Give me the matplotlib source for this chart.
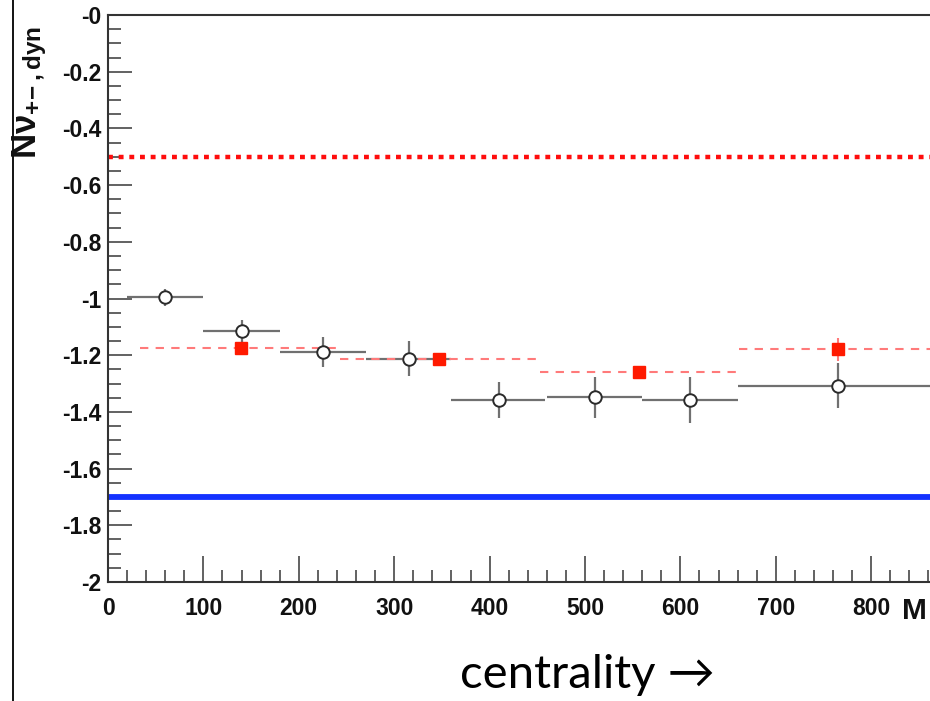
import matplotlib
matplotlib.use("Agg")
import matplotlib.pyplot as plt
from matplotlib.lines import Line2D
from matplotlib.ticker import MultipleLocator, FuncFormatter
import numpy as np

# open circles (black/grey)
circ_x = [60, 140, 225, 315, 410, 510, 610, 765]
circ_y = [-0.995, -1.115, -1.19, -1.213, -1.357, -1.348, -1.358, -1.307]
circ_xlo = [20, 100, 180, 270, 360, 460, 560, 660]
circ_xhi = [100, 180, 270, 360, 458, 560, 660, 870]
circ_yerr = [0.03, 0.04, 0.053, 0.062, 0.064, 0.072, 0.08, 0.078]

# red squares
sq_x = [139, 347, 557, 765]
sq_y = [-1.176, -1.215, -1.258, -1.179]
sq_xlo = [34, 243, 453, 661]
sq_xhi = [243, 452, 660, 870]
sq_yerr = [0.01, 0.01, 0.02, 0.04]

# reference levels
red_level = -0.5
blue_level = -1.7

plt.rcParams['mathtext.fontset'] = 'custom'
plt.rcParams['mathtext.rm'] = 'Liberation Sans:bold'
plt.rcParams['mathtext.it'] = 'Liberation Sans:bold'
plt.rcParams['mathtext.bf'] = 'Liberation Sans:bold'

fig = plt.figure(figsize=(9.3, 7.01), dpi=100)
W, H = 930, 701
ax = fig.add_axes([108 / W, 1 - 582 / H, (W - 108) / W, 567 / H])

xmax = (W - 108) / 0.954
ax.set_xlim(0, xmax)
ax.set_ylim(-2, 0)

# reference lines
ax.axhline(red_level, color='#ff0d0d', lw=3.2, ls=(0, (1.1, 1.3)), zorder=2)
ax.axhline(blue_level, color='#1432ff', lw=4.2, zorder=2)

# circles with grey error bars
ax.hlines(circ_y, circ_xlo, circ_xhi, colors='#707070', lw=1.6, zorder=3)
ax.vlines(circ_x, np.array(circ_y) - np.array(circ_yerr),
          np.array(circ_y) + np.array(circ_yerr), colors='#707070', lw=1.6, zorder=3)

# red squares with dashed error bars
ax.hlines(sq_y, sq_xlo, sq_xhi, colors='#ff7a7a', lw=1.5, linestyles=(0, (4, 3.5)), zorder=4)
ax.vlines(sq_x, np.array(sq_y) - np.array(sq_yerr),
          np.array(sq_y) + np.array(sq_yerr), colors='#ff7a7a', lw=1.5, zorder=4)

ax.plot(circ_x, circ_y, 'o', ms=9, mfc='white', mec='#2a2a2a', mew=1.4, zorder=5)
ax.plot(sq_x, sq_y, 's', ms=8, color='#ff1a00', zorder=6)

# axes style (ROOT-like)
for side in ['left', 'bottom', 'top']:
    ax.spines[side].set_color('#333333')
    ax.spines[side].set_linewidth(1.5)
ax.spines['right'].set_visible(False)

ax.xaxis.set_major_locator(MultipleLocator(100))
ax.xaxis.set_minor_locator(MultipleLocator(20))
ax.yaxis.set_major_locator(MultipleLocator(0.2))
ax.yaxis.set_minor_locator(MultipleLocator(0.05))


def yfmt(v, pos):
    if abs(v) < 1e-9:
        return '-0'
    if abs(v - round(v)) < 1e-9:
        return '%d' % round(v)
    return '%.1f' % v


ax.yaxis.set_major_formatter(FuncFormatter(yfmt))
ax.xaxis.set_major_formatter(FuncFormatter(lambda v, p: '%d' % round(v)))

ax.tick_params(axis='both', which='both', direction='in', color='#555555', width=1.3)
ax.tick_params(axis='y', which='major', length=17, pad=5)
ax.tick_params(axis='y', which='minor', length=9)
ax.tick_params(axis='x', which='major', length=19, pad=11)
ax.tick_params(axis='x', which='minor', length=9)
for lab in ax.get_xticklabels() + ax.get_yticklabels():
    lab.set_fontfamily('Liberation Sans')
    lab.set_fontweight('bold')
    lab.set_fontsize(16.5)
    lab.set_color('#111111')

# axis titles
fig.text(30 / W, 1 - 92 / H, r'$\mathrm{N\nu_{+\!-,dyn}}$', rotation=90,
         ha='center', va='center', fontsize=25, color='#111111')
fig.text(902 / W, 1 - 597 / H, 'M', ha='left', va='top', fontsize=21.5,
         fontfamily='Liberation Sans', fontweight='bold', color='#111111')

# slide annotation
fig.text(587 / W, 1 - 688 / H, 'centrality \u2192', ha='center', va='baseline',
         fontsize=34, fontfamily=['Lato', 'DejaVu Sans'], color='black')

# slide border
fig.add_artist(Line2D([12.5 / W, 12.5 / W], [0, 1], color='black', lw=1.3,
                      transform=fig.transFigure))

fig.savefig('out.png', dpi=100)
